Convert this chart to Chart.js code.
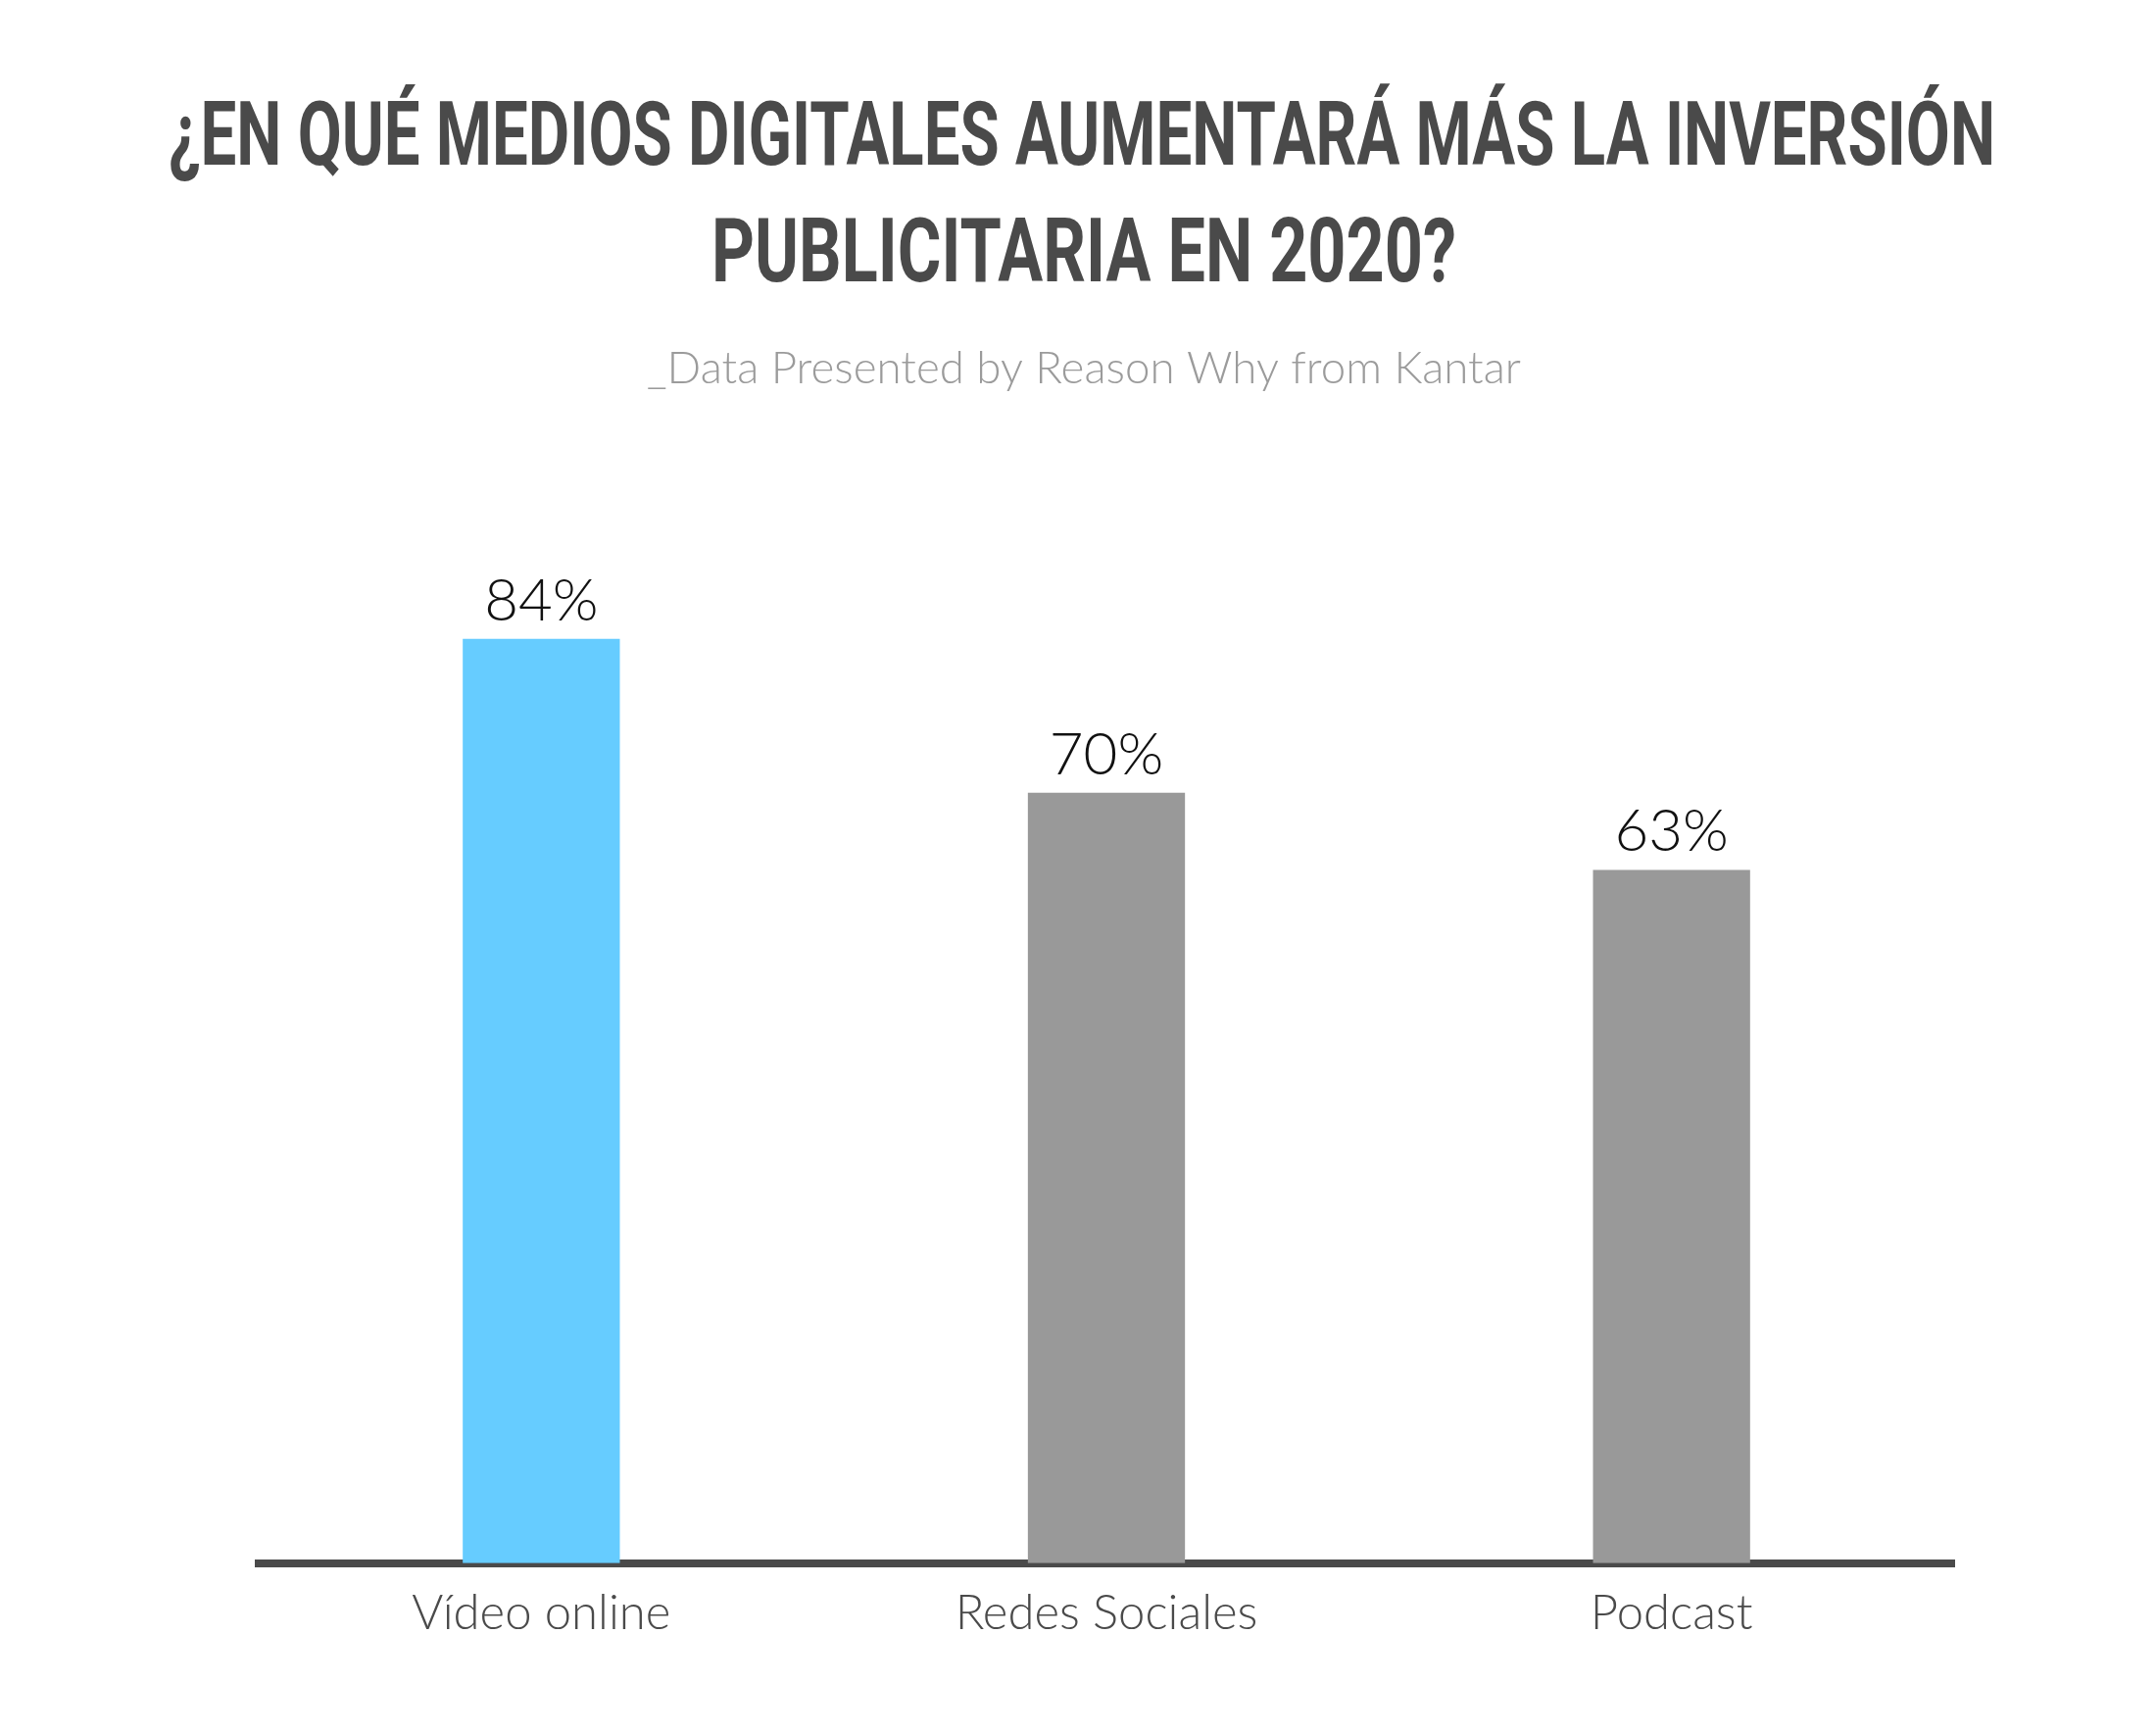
<!DOCTYPE html>
<html>
<head>
<meta charset="utf-8">
<script src="https://cdn.jsdelivr.net/npm/chart.js@4.4.1/dist/chart.umd.min.js"></script>
<style>
  html, body { margin: 0; padding: 0; background: #ffffff; }
  #wrap { position: relative; width: 2200px; height: 1768px; }
</style>
</head>
<body>
<div id="wrap"><canvas id="c"></canvas></div>
<script>
// ---- data ----
const titleLines = ['¿EN QUÉ MEDIOS DIGITALES AUMENTARÁ MÁS LA INVERSIÓN', 'PUBLICITARIA EN 2020?'];
const subtitle = '_Data Presented by Reason Why from Kantar';
const categories = ['Vídeo online', 'Redes Sociales', 'Podcast'];
const values = [84, 70, 63];
const barColors = ['#66CCFF', '#999999', '#999999'];

// ---- plugins ----
const headerPlugin = {
  id: 'header',
  afterDraw(chart) {
    const ctx = chart.ctx;
    ctx.save();
    ctx.textAlign = 'center';
    ctx.textBaseline = 'alphabetic';
    ctx.fillStyle = '#4a4a4a';
    ctx.font = '700 91px Roboto, "DejaVu Sans", sans-serif';
    ctx.fillText(titleLines[0], 1104, 168, 1864);
    ctx.fillText(titleLines[1], 1106, 287, 760);
    ctx.fillStyle = '#9b9b9b';
    ctx.font = '300 46px Lato, "Open Sans", sans-serif';
    ctx.fillText(subtitle, 1106, 391, 892);
    ctx.restore();
  }
};

const valueLabelPlugin = {
  id: 'valueLabels',
  afterDatasetsDraw(chart) {
    const ctx = chart.ctx;
    const meta = chart.getDatasetMeta(0);
    ctx.save();
    ctx.textAlign = 'center';
    ctx.textBaseline = 'alphabetic';
    ctx.fillStyle = '#111111';
    ctx.font = '300 60px Lato, "Open Sans", sans-serif';
    meta.data.forEach((bar, i) => {
      ctx.fillText(values[i] + '%', bar.x, bar.y - 19);
    });
    ctx.restore();
  }
};

new Chart(document.getElementById('c'), {
  type: 'bar',
  data: {
    labels: categories,
    datasets: [{
      data: values,
      backgroundColor: barColors,
      borderWidth: 0,
      barPercentage: 0.278,
      categoryPercentage: 1.0
    }]
  },
  options: {
    responsive: true,
    maintainAspectRatio: false,
    devicePixelRatio: 1,
    animation: false,
    layout: { padding: { top: 472, left: 264, right: 206, bottom: 70 } },
    plugins: {
      legend: { display: false },
      title: { display: false },
      tooltip: { enabled: false }
    },
    scales: {
      x: {
        z: 1,
        grid: { display: false, drawTicks: false },
        border: { display: true, color: '#4a4a4a', width: 8 },
        ticks: {
          color: '#4a4a4a',
          padding: 21,
          font: { family: 'Lato, "Open Sans", sans-serif', size: 49, weight: '300', lineHeight: 1.25 }
        }
      },
      y: {
        display: false,
        min: 0,
        max: 100
      }
    }
  },
  plugins: [headerPlugin, valueLabelPlugin]
});
</script>
</body>
</html>
